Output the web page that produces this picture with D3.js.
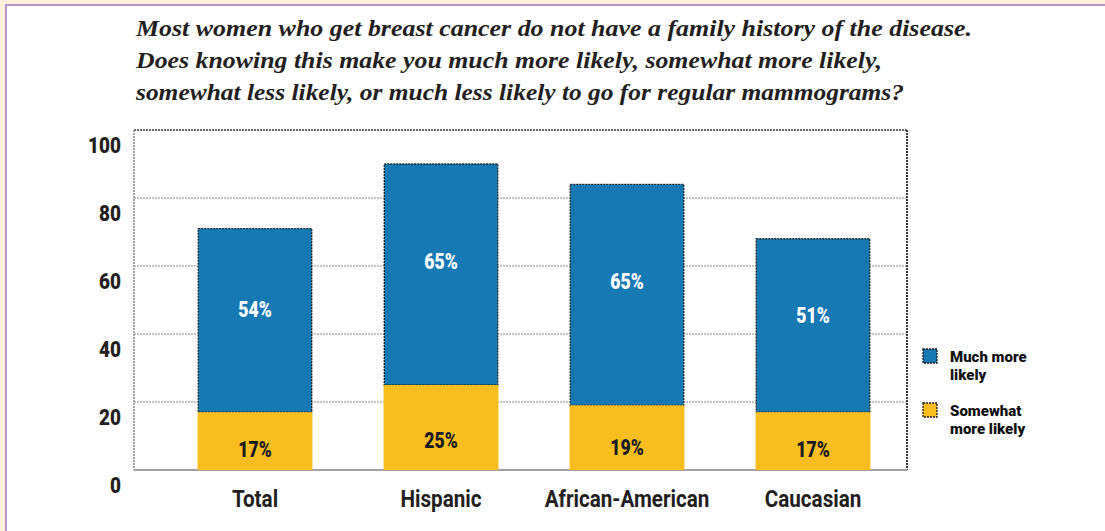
<!DOCTYPE html>
<html>
<head>
<meta charset="utf-8">
<script src="https://cdn.jsdelivr.net/npm/d3@7/dist/d3.min.js"></script>
<style>
  html, body { margin: 0; padding: 0; background: #fdf1dd; }
  svg { display: block; }
</style>
</head>
<body>
<svg id="chart" width="1105" height="531"></svg>
<script>
// Survey responses by group (percent of respondents)
const categories = ["Total", "Hispanic", "African-American", "Caucasian"];
const muchMoreLikely = [54, 65, 65, 51];
const somewhatMoreLikely = [17, 25, 19, 17];
const yTicks = [0, 20, 40, 60, 80, 100];
const seriesNames = ["Much more likely", "Somewhat more likely"];
const titleLines = [
  "Most women who get breast cancer do not have a family history of the disease.",
  "Does knowing this make you much more likely, somewhat more likely,",
  "somewhat less likely, or much less likely to go for regular mammograms?"
];

const colors = { much: "#1779b3", somewhat: "#f8bd1f" };
const sansFont = "Roboto, 'Liberation Sans', 'DejaVu Sans', sans-serif";
const serifFont = "'Liberation Serif', 'Times New Roman', Times, 'Noto Serif', 'DejaVu Serif', serif";

// Squeeze a text selection horizontally to imitate a condensed face
function condense(sel, factor) {
  sel.each(function () {
    const w = this.getComputedTextLength();
    d3.select(this).attr("textLength", w * factor).attr("lengthAdjust", "spacingAndGlyphs");
  });
}

const svg = d3.select("#chart");

// Page panel
svg.append("rect").attr("x", 0).attr("y", 0).attr("width", 1105).attr("height", 531).attr("fill", "#fdf1dd");
svg.append("rect").attr("x", 6).attr("y", 5).attr("width", 1120).attr("height", 540)
  .attr("fill", "#ffffff").attr("stroke", "#b892c4").attr("stroke-width", 2);

// Title
const titleWidths = [836, 746, 768];
svg.append("g").selectAll("text").data(titleLines).join("text")
  .attr("x", 136)
  .attr("y", (d, i) => 36 + i * 32)
  .attr("textLength", (d, i) => titleWidths[i])
  .attr("lengthAdjust", "spacingAndGlyphs")
  .style("font-family", serifFont)
  .attr("font-style", "italic")
  .attr("font-weight", "bold")
  .attr("font-size", 24)
  .attr("fill", "#231f20")
  .text(d => d);

// Scales
const plot = { left: 134, right: 907, top: 130, bottom: 470 };
const x = d3.scaleBand().domain(categories).range([162, 906]).paddingInner(0.39).paddingOuter(0.195);
const y = d3.scaleLinear().domain([0, 100]).range([plot.bottom, plot.top]);

// Gridlines
svg.append("g").selectAll("line").data(yTicks.filter(v => v > 0 && v < 100)).join("line")
  .attr("x1", plot.left).attr("x2", plot.right)
  .attr("y1", d => y(d)).attr("y2", d => y(d))
  .attr("stroke", "#8f8a8a").attr("stroke-width", 1.2).attr("stroke-dasharray", "2,1");

// Frame
const frame = svg.append("g");
frame.append("line").attr("x1", plot.left).attr("x2", plot.right).attr("y1", plot.top).attr("y2", plot.top)
  .attr("stroke", "#3a3636").attr("stroke-width", 1.5).attr("stroke-dasharray", "2,1");
frame.append("line").attr("x1", plot.right).attr("x2", plot.right).attr("y1", plot.top).attr("y2", plot.bottom)
  .attr("stroke", "#2a2626").attr("stroke-width", 1.8).attr("stroke-dasharray", "2,1");
frame.append("line").attr("x1", plot.left).attr("x2", plot.left).attr("y1", plot.top).attr("y2", plot.bottom)
  .attr("stroke", "#9c9898").attr("stroke-width", 1.8).attr("stroke-dasharray", "2,1");
frame.append("line").attr("x1", plot.left).attr("x2", plot.right).attr("y1", plot.bottom).attr("y2", plot.bottom)
  .attr("stroke", "#a5a2a2").attr("stroke-width", 2);

// Y axis labels
const yAxis = d3.axisLeft(y).tickValues(yTicks).tickSize(0).tickPadding(13);
const yg = svg.append("g").attr("transform", `translate(${plot.left},0)`).call(yAxis);
yg.select(".domain").remove();
yg.selectAll("text")
  .attr("dy", "1.0em")
  .style("font-family", sansFont).attr("font-weight", "900").attr("font-size", 22).attr("fill", "#231f20")
  .call(condense, 0.86);

// X axis labels
const xAxis = d3.axisBottom(x).tickSize(0).tickPadding(0);
const xg = svg.append("g").attr("transform", `translate(0,${plot.bottom})`).call(xAxis);
xg.select(".domain").remove();
xg.selectAll("text")
  .attr("y", 37).attr("dy", 0)
  .style("font-family", sansFont).attr("font-weight", "bold").attr("font-size", 24).attr("fill", "#231f20")
  .call(condense, 0.86);

// Bars
const rows = categories.map((c, i) => ({ cat: c, much: muchMoreLikely[i], some: somewhatMoreLikely[i] }));
const bars = svg.append("g").selectAll("g").data(rows).join("g");

bars.append("rect")
  .attr("x", d => x(d.cat)).attr("width", x.bandwidth())
  .attr("y", d => y(d.some + d.much)).attr("height", d => y(d.some) - y(d.some + d.much))
  .attr("fill", colors.much).attr("stroke", "#1d2a33").attr("stroke-width", 1.4).attr("stroke-dasharray", "2,1");

bars.append("rect")
  .attr("x", d => x(d.cat) - 0.7).attr("width", x.bandwidth() + 1.4)
  .attr("y", d => y(d.some)).attr("height", d => y(0) - y(d.some))
  .attr("fill", colors.somewhat);

// Value labels
bars.append("text")
  .attr("x", d => x(d.cat) + x.bandwidth() / 2)
  .attr("y", d => y(d.some + d.much * 0.56))
  .attr("dominant-baseline", "central").attr("text-anchor", "middle")
  .style("font-family", sansFont).attr("font-weight", "900").attr("font-size", 22)
  .attr("fill", "#ffffff")
  .text(d => d.much + "%")
  .call(condense, 0.8);

bars.append("text")
  .attr("x", d => x(d.cat) + x.bandwidth() / 2)
  .attr("y", d => y(d.some * 0.35))
  .attr("dominant-baseline", "central").attr("text-anchor", "middle")
  .style("font-family", sansFont).attr("font-weight", "900").attr("font-size", 22)
  .attr("fill", "#1a1a1a")
  .text(d => d.some + "%")
  .call(condense, 0.8);

// Legend
const legendItems = [
  { name: seriesNames[0], color: colors.much, lines: ["Much more", "likely"], y: 349 },
  { name: seriesNames[1], color: colors.somewhat, lines: ["Somewhat", "more likely"], y: 403 }
];
const lg = svg.append("g").selectAll("g").data(legendItems).join("g")
  .attr("transform", d => `translate(923,${d.y})`);
lg.append("rect").attr("width", 14).attr("height", 14)
  .attr("fill", d => d.color).attr("stroke", "#1a1a1a").attr("stroke-width", 1.3).attr("stroke-dasharray", "2,1");
lg.each(function (d) {
  d3.select(this).selectAll("text").data(d.lines).join("text")
    .attr("x", 27).attr("y", (t, i) => 13 + i * 18)
    .style("font-family", sansFont).attr("font-weight", "900").attr("font-size", 15)
    .attr("fill", "#111111")
    .text(t => t);
});
</script>
</body>
</html>
